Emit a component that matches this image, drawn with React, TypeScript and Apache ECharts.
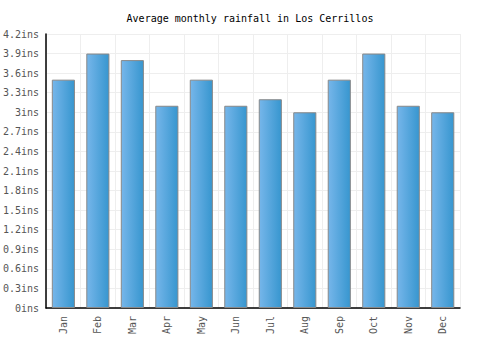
import React, { useEffect, useRef } from "react";
import * as echarts from "echarts";

const months = ["Jan", "Feb", "Mar", "Apr", "May", "Jun", "Jul", "Aug", "Sep", "Oct", "Nov", "Dec"];
const rainfall = [3.5, 3.9, 3.8, 3.1, 3.5, 3.1, 3.2, 3.0, 3.5, 3.9, 3.1, 3.0];
const titleText = "Average monthly rainfall in Los Cerrillos";
const unit = "ins";

export default function App() {
  const ref = useRef<HTMLDivElement>(null);
  useEffect(() => {
    document.body.style.margin = "0";
    const chart = echarts.init(ref.current!, null, { renderer: "svg" });
    const font = "'DejaVu Sans Mono', monospace";
    chart.setOption({
      animation: false,
      backgroundColor: "#fff",
      title: {
        text: titleText,
        left: "center",
        top: 8,
        textStyle: { fontFamily: font, fontSize: 10, fontWeight: "normal", color: "#000" },
      },
      grid: { left: 41, right: 40, top: 34, bottom: 42 },
      xAxis: {
        type: "category",
        data: months,
        axisLine: { lineStyle: { color: "#000", width: 1.5 } },
        axisTick: { show: false },
        axisLabel: { rotate: 90, fontFamily: font, fontSize: 10, color: "#555", margin: 8 },
        splitLine: { show: true, lineStyle: { color: "#eee" } },
      },
      yAxis: {
        type: "value",
        min: 0,
        max: 4.2,
        interval: 0.3,
        axisLine: { show: true, lineStyle: { color: "#000", width: 1.5 } },
        axisTick: { show: false },
        axisLabel: {
          fontFamily: font,
          fontSize: 10,
          color: "#555",
          margin: 7,
          formatter: (v: number) => +v.toFixed(1) + unit,
        },
        splitLine: { show: true, lineStyle: { color: "#eee" } },
      },
      series: [
        {
          type: "bar",
          data: rainfall,
          barWidth: "67%",
          itemStyle: {
            borderColor: "#888",
            borderWidth: 1,
            color: new echarts.graphic.LinearGradient(0, 0, 1, 0, [
              { offset: 0, color: "#76b6ea" },
              { offset: 1, color: "#3796cf" },
            ]),
          },
        },
      ],
    });
    return () => chart.dispose();
  }, []);
  return <div ref={ref} style={{ width: 500, height: 350 }} />;
}
